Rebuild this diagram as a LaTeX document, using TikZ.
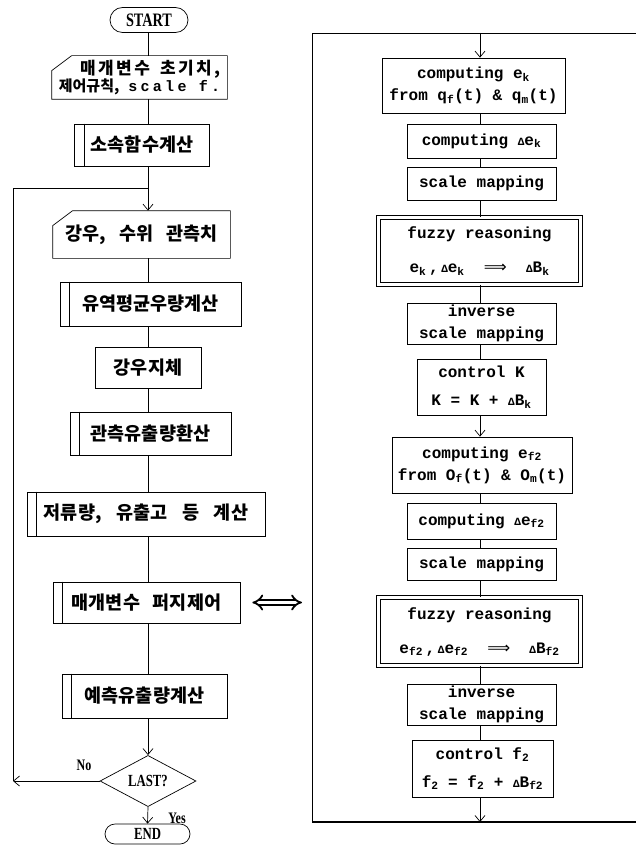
\documentclass[tikz,border=0pt]{standalone}
\usepackage{fontspec}
\usetikzlibrary{arrows.meta, shapes.geometric, shapes.misc}
\setmainfont{Liberation Mono}
\newfontfamily\kor{Noto Sans CJK KR}
\newfontfamily\widekor{Noto Sans CJK KR}[LetterSpace=14]
\newfontfamily\widemono{Liberation Mono}[LetterSpace=22]
\newfontfamily\termfont{Liberation Serif}[FakeStretch=0.75]
\newfontfamily\symfont{DejaVu Sans}
\newcommand\dlt{{\fontsize{11}{11}\selectfont Δ}}
\newcommand\subidx[1]{\textsubscript{#1}}
\newcommand\implto{{\symfont\mdseries ⟹}}

\begin{document}
\begin{tikzpicture}[x=1pt, y=-1pt, line width=0.7pt,
  every node/.style={inner sep=0pt, font=\bfseries\fontsize{16}{22}\selectfont},
  box/.style={draw, align=center},
  korbox/.style={box, font=\kor\bfseries\fontsize{18.5}{20}\selectfont},
  term/.style={draw, rounded rectangle, font=\termfont\bfseries\fontsize{19}{20}\selectfont},
  fuzzybox/.style={box, double, double distance=3pt, font=\bfseries\fontsize{16}{34}\selectfont},
  decide/.style={draw, diamond, font=\termfont\bfseries\fontsize{17}{20}\selectfont},
  lbl/.style={font=\termfont\bfseries\fontsize{16}{20}\selectfont},
  arr/.style={-{Straight Barb[length=6pt,width=10pt]}},
  dblarr/.style={double, double distance=3.5pt, line width=1.8pt, {Implies}-{Implies}, shorten <=12pt, shorten >=10pt},
]
  \useasboundingbox (0,0) rectangle (636,864);
  % main loop
  \node[term, minimum width=78pt, minimum height=25pt] (start) at (149,20) {START};
  \node[korbox, draw=none, align=right, minimum width=175pt, minimum height=43pt, font=\kor\bfseries\fontsize{15}{17}\selectfont] (init) at (139.5,77.5)
    {{\widekor\fontsize{17}{17}\selectfont 매개변수\hspace{0.6em}초기치,}\\제어규칙,\hspace{0.6em}{\widemono scale f.}};
  \node[korbox, minimum width=135pt, minimum height=42pt] (memb) at (142,145) {소속함수계산};
  \node[korbox, draw=none, minimum width=177pt, minimum height=47pt] (obs) at (141.5,234.5) {강우,\hspace{0.7em}수위\hspace{0.7em}관측치};
  \node[korbox, minimum width=181pt, minimum height=44pt] (avg) at (150.5,304) {유역평균우량계산};
  \node[korbox, minimum width=106pt, minimum height=41pt] (delay) at (148,367.5) {강우지체};
  \node[korbox, minimum width=161pt, minimum height=43pt] (conv) at (150.5,433.5) {관측유출량환산};
  \node[korbox, minimum width=238pt, minimum height=44pt] (store) at (146,514)
    {저류량,\hspace{0.8em}유출고\hspace{0.8em}등\hspace{0.8em}계산};
  \node[korbox, minimum width=187pt, minimum height=41pt] (fctl) at (146.5,602.5) {매개변수\hspace{0.7em}퍼지제어};
  \node[korbox, minimum width=165pt, minimum height=44pt] (pred) at (144.5,696) {예측유출량계산};
  \node[decide, minimum width=96pt, minimum height=48pt] (last) at (148,781) {LAST?};
  \node[term, minimum width=85pt, minimum height=20pt, font=\termfont\bfseries\fontsize{17}{20}\selectfont] (end) at (147.5,834) {END};
  \node[lbl] (no) at (84,765) {No};
  \node[lbl] (yes) at (177,818) {Yes};

  \foreach \n in {init,obs}
    \draw (\n.south west) -- (\n.south east) -- (\n.north east)
      -- ([xshift=20pt]\n.north west) -- ([yshift=-15pt]\n.north west) -- cycle;
  \foreach \n in {memb,avg,conv,store,fctl,pred}
    \draw ([xshift=10pt]\n.north west) -- ([xshift=10pt]\n.south west);

  \coordinate (spine) at (148,0);
  \coordinate (loop) at (148,188);
  \coordinate (back) at (13,781);
  \foreach \a/\b in {start/init, init/memb, obs/avg, avg/delay, delay/conv, conv/store, store/fctl, fctl/pred}
    \draw (spine |- \a.south) -- (spine |- \b.north);
  \draw (spine |- memb.south) -- (loop);
  \draw[arr] (back) |- (loop) -- (spine |- obs.north);
  \draw[arr] (spine |- pred.south) -- (last.north);
  \draw[arr] (last.west) -- (back);
  \draw[arr] (last.south) -- (end.north);

  % fuzzy control panel
  \coordinate (ptop) at (312,33);
  \coordinate (pbot) at (312,822);
  \coordinate (pspine) at (480,0);
  \draw (636,33) -- (ptop) -- (pbot);
  \draw[line width=1.2pt] (pbot) -- (636,822);

  \node[box, minimum width=183pt, minimum height=55pt] (ce1) at (473.5,85.5)
    {computing e\subidx{k}\\from q\subidx{f}(t) \& q\subidx{m}(t)};
  \node[box, minimum width=149pt, minimum height=34pt] (de1) at (481.5,141) {computing \dlt e\subidx{k}};
  \node[box, minimum width=149pt, minimum height=33pt] (sm1) at (481.5,183.5) {scale mapping};
  \node[fuzzybox, minimum width=202pt, minimum height=67pt] (fz1) at (479.5,251)
    {fuzzy reasoning\\e\subidx{k}\,,\,\dlt e\subidx{k}\ \ \implto\ \ \dlt B\subidx{k}};
  \node[box, minimum width=149pt, minimum height=41pt] (ism1) at (481.5,323.5) {inverse\\scale mapping};
  \node[box, minimum width=129pt, minimum height=56pt, font=\bfseries\fontsize{16}{28}\selectfont] (ck) at (481.5,387)
    {control K\\K = K + \dlt B\subidx{k}};
  \node[box, minimum width=180pt, minimum height=56pt] (ce2) at (482,465)
    {computing e\subidx{f2}\\from O\subidx{f}(t) \& O\subidx{m}(t)};
  \node[box, minimum width=149pt, minimum height=36pt] (de2) at (481.5,521) {computing \dlt e\subidx{f2}};
  \node[box, minimum width=149pt, minimum height=32pt] (sm2) at (481.5,564) {scale mapping};
  \node[fuzzybox, minimum width=202pt, minimum height=68pt] (fz2) at (479.5,631.5)
    {fuzzy reasoning\\e\subidx{f2}\,,\,\dlt e\subidx{f2}\ \ \implto\ \ \dlt B\subidx{f2}};
  \node[box, minimum width=149pt, minimum height=41pt] (ism2) at (481.5,704.5) {inverse\\scale mapping};
  \node[box, minimum width=141pt, minimum height=57pt, font=\bfseries\fontsize{16}{28}\selectfont] (cf) at (482.5,768.5)
    {control f\subidx{2}\\f\subidx{2} = f\subidx{2} + \dlt B\subidx{f2}};

  \draw[arr] (pspine |- ptop) -- (pspine |- ce1.north);
  \foreach \a/\b in {ce1/de1, de1/sm1, sm1/fz1, fz1/ism1, ism1/ck, ce2/de2, de2/sm2, sm2/fz2, fz2/ism2, ism2/cf}
    \draw (pspine |- \a.south) -- (pspine |- \b.north);
  \draw[arr] (pspine |- ck.south) -- (pspine |- ce2.north);
  \draw[arr] (pspine |- cf.south) -- (pspine |- pbot);

  \draw[dblarr] (fctl.east) -- (fctl.east -| ptop);
\end{tikzpicture}
\end{document}
